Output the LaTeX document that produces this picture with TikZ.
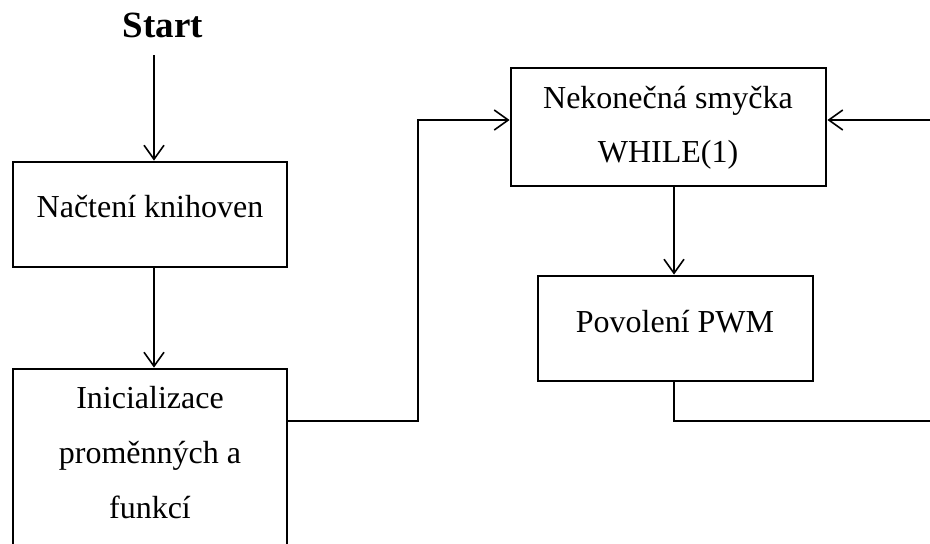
\documentclass[tikz,border=0pt]{standalone}
\usepackage{fontspec}
\setmainfont{Liberation Serif}
\usetikzlibrary{arrows.meta}
\begin{document}
\begin{tikzpicture}[x=1pt,y=-1pt,
  box/.style={draw, line width=2.8pt, inner sep=0pt},
  conn/.style={line width=1.6pt},
  arr/.style={conn, -{Straight Barb[length=14pt,width=20pt]}},
  lbl/.style={anchor=base, inner sep=0pt, font=\fontsize{32}{38}\selectfont},
]
\clip (0,0) rectangle (930,544);
% boxes
\node[box, minimum width=274pt, minimum height=105pt] (b1) at (150,214.5) {};
\node[box, minimum width=274pt, minimum height=231pt] (b2) at (150,484.5) {};
\node[box, minimum width=315pt, minimum height=118pt] (b3) at (668.5,127) {};
\node[box, minimum width=275pt, minimum height=105pt] (b4) at (675.5,328.5) {};
% texts
\node[anchor=base, inner sep=0pt, font=\bfseries\fontsize{37}{44}\selectfont] (start) at (163,37) {Start};
\node[lbl] (t1) at (150,217) {Načtení knihoven};
\node[lbl] (t2a) at (150,408) {Inicializace};
\node[lbl] (t2b) at (150,463) {proměnných a};
\node[lbl] (t2c) at (150,518) {funkcí};
\node[lbl] (t3a) at (668,108) {Nekonečná smyčka};
\node[lbl] (t3b) at (668,162) {WHILE(1)};
\node[lbl] (t4) at (675,332) {Povolení PWM};
% coordinates
\coordinate (s0) at (154,55);
\coordinate (j1) at (418,421);
\coordinate (j2) at (418,120);
\coordinate (j3) at (674,421);
\coordinate (r1) at (930,120);
\coordinate (r2) at (930,421);
% connectors
\draw[arr] (s0) -- (s0 |- b1.north);
\draw[arr] (s0 |- b1.south) -- (s0 |- b2.north);
\draw[arr] (b2.east |- j1) -- (j1) -- (j2) -- (j2 -| b3.west);
\draw[arr] (j3 |- b3.south) -- (j3 |- b4.north);
\draw[conn] (j3 |- b4.south) -- (j3) -- (r2);
\draw[arr] (r1) -- (r1 -| b3.east);
\end{tikzpicture}
\end{document}
